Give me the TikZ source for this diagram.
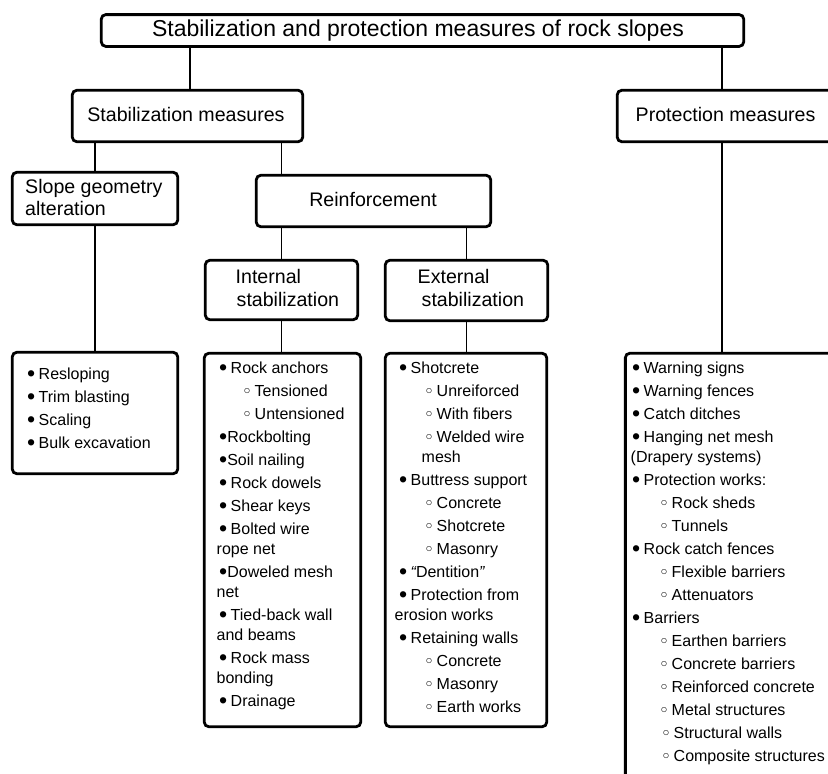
\documentclass[tikz,border=0pt]{standalone}
\usepackage{fontspec}
\setmainfont{Liberation Sans}
\newcommand\dotb{\raisebox{-2.7pt}{\scalebox{1.45}{•}}}
\newcommand\circb{\raisebox{1.4pt}{\scalebox{0.72}{○}}}
\newcommand\itemb{\makebox[11.5pt][l]{\dotb}}
\newcommand\subb{\makebox[11pt][l]{\circb}}
\tikzset{
  box/.style={draw, line width=2.8pt, rounded corners=4.5pt, inner sep=0pt, outer sep=0pt},
  conn/.style={line width=1.5pt},
  titletxt/.style={font=\fontsize{23}{27}\selectfont, inner sep=0pt},
  headtxt/.style={font=\fontsize{19.6}{23}\selectfont, inner sep=0pt},
  itemtxt/.style={font=\fontsize{16}{20}\selectfont, inner sep=0pt, anchor=base west},
}
\begin{document}
\begin{tikzpicture}[x=1pt,y=-1pt]
\useasboundingbox (0,0) rectangle (828,774);
\fill[white] (0,0) rectangle (828,774);
% boxes
\node[box, minimum width=642.4pt, minimum height=31.8pt] (top) at (422.5,30.5) {};
\node[box, minimum width=230.4pt, minimum height=51.4pt] (stab) at (187.5,116) {};
\node[box, minimum width=222.7pt, minimum height=51.4pt] (prot) at (728.6,116) {};
\node[box, minimum width=165.4pt, minimum height=52.4pt] (slope) at (95,198.5) {};
\node[box, minimum width=234.4pt, minimum height=51.4pt] (reinf) at (373.5,201) {};
\node[box, minimum width=152.4pt, minimum height=59.4pt] (int) at (281.5,290) {};
\node[box, minimum width=162.4pt, minimum height=60.4pt] (ext) at (466.5,290.5) {};
\node[box, minimum width=165.4pt, minimum height=121.4pt] (slopelist) at (95,413) {};
\node[box, minimum width=156.4pt, minimum height=373.4pt] (intlist) at (282.5,540) {};
\node[box, minimum width=161.4pt, minimum height=373.4pt] (extlist) at (466,540) {};
\node[box, minimum width=219.7pt, minimum height=446.7pt] (protlist) at (735.2,576.6) {};
% connectors
\draw[conn] ([xshift=2.5pt]stab.north) -- ([xshift=2.5pt]stab.north |- top.south);
\draw[conn] ([xshift=-6.6pt]prot.north) -- ([xshift=-6.6pt]prot.north |- top.south);
\draw[conn] (slope.north) -- (slope.north |- stab.south);
\draw[conn] (reinf.north -| int.north) -- (stab.south -| int.north);
\draw[conn] (int.north) -- (int.north |- reinf.south);
\draw[conn] (ext.north) -- (ext.north |- reinf.south);
\draw[conn] (slopelist.north) -- (slopelist.north |- slope.south);
\draw[conn] (intlist.north -| int.south) -- (int.south);
\draw[conn] (extlist.north -| ext.south) -- (ext.south);
\draw[conn] ([xshift=-6.6pt]prot.south) -- ([xshift=-6.6pt]prot.south |- protlist.north);
% header texts
\node[titletxt, anchor=base] (toptxt) at (418,36) {Stabilization and protection measures of rock slopes};
\node[headtxt, anchor=base] (stabtxt) at (186,121) {Stabilization measures};
\node[headtxt, anchor=base west] (prottxt) at (635.5,121) {Protection measures};
\node[headtxt, anchor=base west] (slopetxta) at (25,193) {Slope geometry};
\node[headtxt, anchor=base west] (slopetxtb) at (25,215) {alteration};
\node[headtxt, anchor=base] (reinftxt) at (373,206) {Reinforcement};
\node[headtxt, anchor=base west] (inttxta) at (235.5,283) {Internal};
\node[headtxt, anchor=base west] (inttxtb) at (236.5,306.5) {stabilization};
\node[headtxt, anchor=base west] (exttxta) at (417.5,283) {External};
\node[headtxt, anchor=base west] (exttxtb) at (421.5,306.5) {stabilization};
% slope list
\foreach \yy/\xx/\tx [count=\i] in {
  379/27/{\itemb Resloping},
  402/27/{\itemb Trim blasting},
  425/27/{\itemb Scaling},
  448/27/{\itemb Bulk excavation}}
  \node[itemtxt] (sl\i) at (\xx,\yy) {\tx};
% internal list
\foreach \yy/\xx/\tx [count=\i] in {
  373/219/{\itemb Rock anchors},
  396/243.5/{\subb Tensioned},
  419/243.5/{\subb Untensioned},
  442/219/{\dotb Rockbolting},
  465/219/{\dotb Soil nailing},
  488/219/{\itemb Rock dowels},
  511/219/{\itemb Shear keys},
  534/219/{\itemb Bolted wire},
  554/216.5/{rope net},
  577/219/{\dotb Doweled mesh},
  597/216.5/{net},
  620/219/{\itemb Tied-back wall},
  640/216.5/{and beams},
  663/219/{\itemb Rock mass},
  683/216.5/{bonding},
  706/219/{\itemb Drainage}}
  \node[itemtxt] (il\i) at (\xx,\yy) {\tx};
% external list
\foreach \yy/\xx/\tx [count=\i] in {
  373/399/{\itemb Shotcrete},
  396/425.5/{\subb Unreiforced},
  419/425.5/{\subb With fibers},
  442/425.5/{\subb Welded wire},
  462/421.5/{mesh},
  485/399/{\itemb Buttress support},
  508/425.5/{\subb Concrete},
  531/425.5/{\subb Shotcrete},
  554/425.5/{\subb Masonry},
  577/399/{\itemb {\itshape “}Dentition{\itshape ”}},
  600/399/{\itemb Protection from},
  620/394.5/{erosion works},
  643/399/{\itemb Retaining walls},
  666/425.5/{\subb Concrete},
  689/425.5/{\subb Masonry},
  712/425.5/{\subb Earth works}}
  \node[itemtxt] (el\i) at (\xx,\yy) {\tx};
% protection list
\foreach \yy/\xx/\tx [count=\i] in {
  373/632/{\itemb Warning signs},
  396/632/{\itemb Warning fences},
  419/632/{\itemb Catch ditches},
  442/632/{\itemb Hanging net mesh},
  462/630.5/{(Drapery systems)},
  485/632/{\itemb Protection works:},
  508/660.5/{\subb Rock sheds},
  531/660.5/{\subb Tunnels},
  554/632/{\itemb Rock catch fences},
  577/660.5/{\subb Flexible barriers},
  600/660.5/{\subb Attenuators},
  623/632/{\itemb Barriers},
  646/660.5/{\subb Earthen barriers},
  669/660.5/{\subb Concrete barriers},
  692/660.5/{\subb Reinforced concrete},
  715/660.5/{\subb Metal structures},
  738/662.5/{\subb Structural walls},
  761/662.5/{\subb Composite structures}}
  \node[itemtxt] (pl\i) at (\xx,\yy) {\tx};
\end{tikzpicture}
\end{document}
